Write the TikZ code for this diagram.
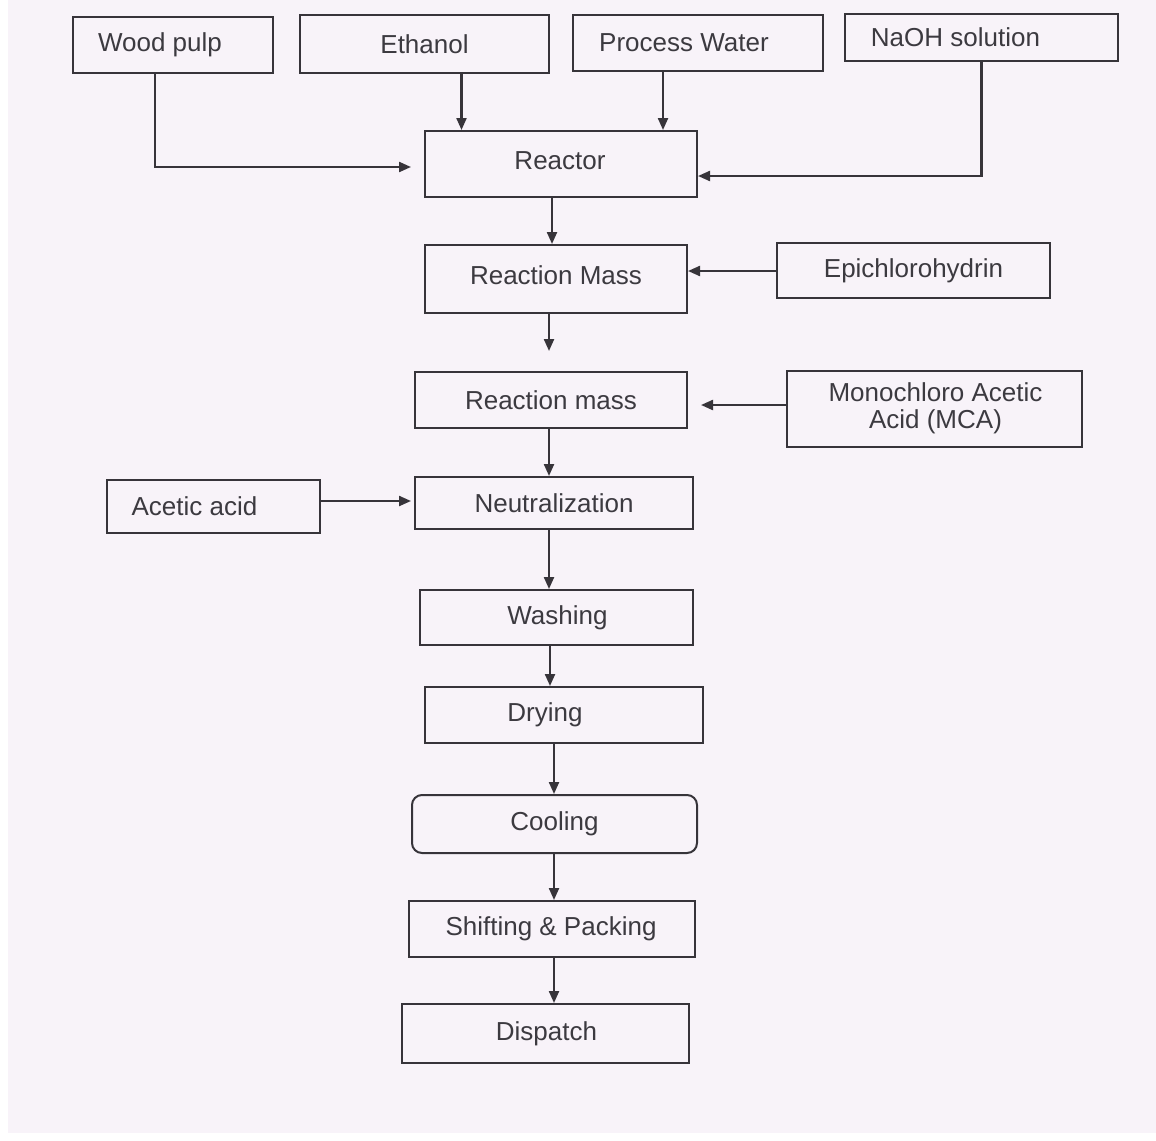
\documentclass[tikz,border=0pt]{standalone}
\usepackage{fontspec}
\setmainfont{Liberation Sans}
\usetikzlibrary{arrows.meta,calc}
\definecolor{bgc}{RGB}{248,243,249}
\definecolor{ink}{RGB}{55,52,58}
\definecolor{txt}{RGB}{60,58,64}
\newcommand\tx[3]{\raisebox{#2pt}{\makebox[0pt]{\hspace*{#1pt}#3}}}
\newcommand\mybox[7][]{\node[box,#1,minimum width={#4-#2},minimum height={#5-#3}] (#7) at ({(#2+#4)/2},{(#3+#5)/2}) {#6};}
\begin{document}
\begin{tikzpicture}[x=1pt,y=-1pt,
  box/.style={draw=ink,line width=2pt,rectangle,inner sep=0pt,text=txt,font=\fontsize{26}{31}\selectfont},
  arr/.style={draw=ink,line width=2.2pt,-{Triangle[length=12pt,width=10pt]}}]
\useasboundingbox (0,0) rectangle (1156,1140);
\fill[white] (0,0) rectangle (1156,1140);
\fill[bgc] (8,0) rectangle (1156,1133);
% top inputs
\mybox{73}{17}{273}{73}{\tx{-26}{0}{Wood pulp}}{wood}
\mybox{300}{15}{549}{73}{\tx{0}{0}{Ethanol}}{eth}
\mybox{573}{15}{823}{71}{\tx{-28}{0}{Process Water}}{water}
\mybox{845}{14}{1118}{61}{\tx{-52}{1}{NaOH solution}}{naoh}
% main chain
\mybox{425}{131}{697}{197}{\tx{-2}{7}{Reactor}}{reactor}
\mybox{425}{245}{687}{313}{\tx{0}{8}{Reaction Mass}}{rm}
\mybox{777}{243}{1050}{298}{\tx{0}{0}{Epichlorohydrin}}{epi}
\mybox{415}{372}{687}{428}{\tx{0}{0}{Reaction mass}}{rmb}
\mybox{787}{371}{1082}{447}{\tx{2}{-1}{\begin{tabular}{@{}c@{}}Monochloro Acetic\\[-4pt]Acid (MCA)\end{tabular}}}{mca}
\mybox{107}{480}{320}{533}{\tx{-38}{0}{Acetic acid}}{acetic}
\mybox{415}{477}{693}{529}{\tx{0}{0}{Neutralization}}{neut}
\mybox{420}{590}{693}{645}{\tx{2}{-3}{Washing}}{wash}
\mybox{425}{687}{703}{743}{\tx{-38}{0}{Drying}}{dry}
\mybox[rounded corners=10pt]{412}{795}{697}{853}{\tx{0}{0}{Cooling}}{cool}
\mybox{409}{901}{695}{957}{\tx{-2}{1}{Shifting \& Packing}}{ship}
\mybox{402}{1004}{689}{1063}{\tx{2}{1}{Dispatch}}{disp}
% connectors
\draw[arr] ($(wood.south)+(-18,0)$) |- ($(reactor.west)+(-13,3)$);
\draw[arr] ($(eth.south)+(37,0)$) coordinate (e1) -- (e1 |- reactor.north);
\draw[arr] ($(water.south)+(-35,0)$) coordinate (w1) -- (w1 |- reactor.north);
\draw[arr] (naoh.south) |- ($(reactor.east)+(0,12)$);
\draw[arr] ($(reactor.south)+(-9,0)$) coordinate (r1) -- (r1 |- rm.north);
\draw[arr] ($(rm.south)+(-7,0)$) coordinate (m1) -- ($(m1 |- rmb.north)+(0,-20)$);
\draw[arr] ($(epi.west)+(0,0.5)$) coordinate (p1) -- (p1 -| rm.east);
\draw[arr] ($(mca.west)+(0,-4)$) coordinate (c1) -- ($(c1 -| rmb.east)+(13,0)$);
\draw[arr] ($(rmb.south)+(-2,0)$) coordinate (b1) -- (b1 |- neut.north);
\draw[arr] ($(acetic.east)+(0,-5.5)$) coordinate (a1) -- ($(a1 -| neut.west)+(-3,0)$);
\draw[arr] ($(neut.south)+(-5,0)$) coordinate (n1) -- (n1 |- wash.north);
\draw[arr] ($(wash.south)+(-6.5,0)$) coordinate (h1) -- (h1 |- dry.north);
\draw[arr] ($(dry.south)+(-10,0)$) coordinate (d1) -- (d1 |- cool.north);
\draw[arr] ($(cool.south)+(-0.5,0)$) coordinate (k1) -- (k1 |- ship.north);
\draw[arr] ($(ship.south)+(2,0)$) coordinate (s1) -- (s1 |- disp.north);
\end{tikzpicture}
\end{document}
